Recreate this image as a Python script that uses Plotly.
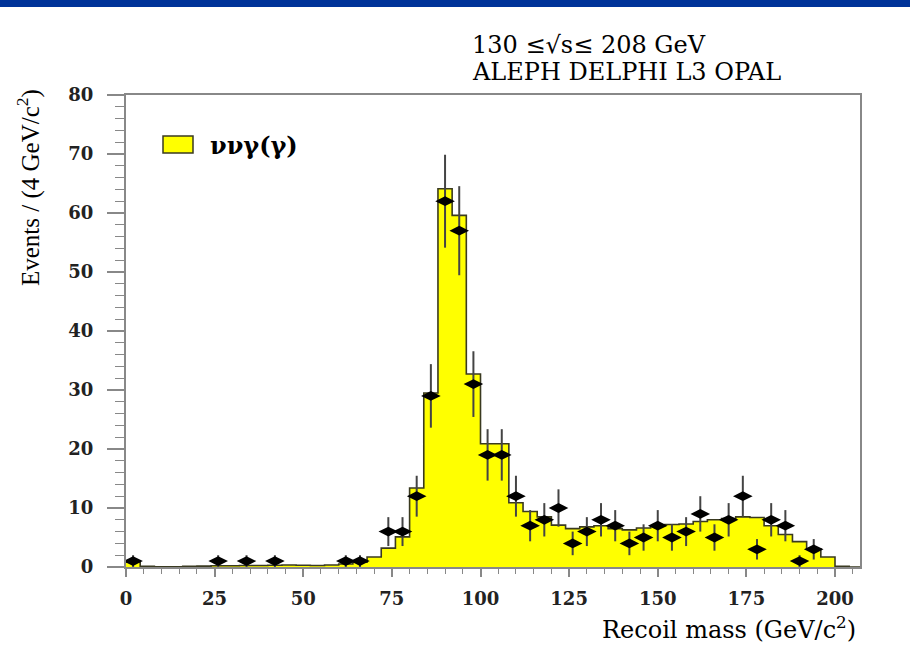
import numpy as np
import plotly.graph_objects as go

# ---- data ----
bin_edges = list(range(0, 212, 4))  # 0..208
mc_values = [0.8, 0.1, 0.05, 0.05, 0.1, 0.15, 0.2, 0.2, 0.25, 0.25,
             0.3, 0.35, 0.3, 0.25, 0.35, 0.5, 0.8, 1.7, 3.2, 5.1,
             13.4, 29.5, 64.1, 59.6, 32.7, 20.9, 20.9, 10.9, 9.4, 8.5,
             7.1, 6.5, 6.8, 7.0, 6.5, 6.3, 6.6, 7.0, 7.2, 7.3,
             7.7, 8.0, 8.2, 8.5, 8.4, 7.0, 5.5, 4.3, 3.1, 1.7,
             0.1, 0.0]
data_x = [2, 26, 34, 42, 62, 66, 74, 78, 82, 86, 90, 94, 98, 102, 106, 110,
          114, 118, 122, 126, 130, 134, 138, 142, 146, 150, 154, 158, 162,
          166, 170, 174, 178, 182, 186, 190, 194]
data_counts = [1, 1, 1, 1, 1, 1, 6, 6, 12, 29, 62, 57, 31, 19, 19, 12,
               7, 8, 10, 4, 6, 8, 7, 4, 5, 7, 5, 6, 9,
               5, 8, 12, 3, 8, 7, 1, 3]
x_ticks = [0, 25, 50, 75, 100, 125, 150, 175, 200]
y_ticks = [0, 10, 20, 30, 40, 50, 60, 70, 80]

SERIF = "Liberation Serif, Times New Roman, serif"
WIDE = "DejaVu Serif, serif"

fig = go.Figure()

# MC histogram (step)
fig.add_trace(go.Scatter(
    x=bin_edges, y=mc_values + [mc_values[-1]],
    mode="lines", line=dict(shape="hv", color="#3a3a20", width=1.6),
    fill="tozeroy", fillcolor="#ffff00", showlegend=False, hoverinfo="skip"))

# Data points
errs = list(np.sqrt(np.array(data_counts, dtype=float)))
fig.add_trace(go.Scatter(
    x=data_x, y=data_counts, mode="markers",
    marker=dict(symbol="diamond-wide", size=14, color="black"),
    error_y=dict(type="data", array=errs, visible=True, color="#444444",
                 thickness=2, width=0),
    showlegend=False))

W, H = 910, 657
L, R, T, B = 126, 50, 95, 90
pw, ph = W - L - R, H - T - B

def px(xp):
    return (xp - L) / pw

def py(yp):
    return (H - B - yp) / ph

fig.update_layout(
    width=W, height=H,
    margin=dict(l=L, r=R, t=T, b=B),
    paper_bgcolor="white", plot_bgcolor="white",
    font=dict(family=SERIF, color="black"),
    xaxis=dict(range=[0, pw / 3.545], tickvals=x_ticks,
               ticks="outside", ticklen=8, tickwidth=1.5, tickcolor="#888",
               minor=dict(dtick=5, ticks="outside", ticklen=5, tickcolor="#888", tickwidth=1.2),
               showline=True, linecolor="#888", linewidth=2, mirror=True,
               showgrid=False, zeroline=False,
               tickfont=dict(family=WIDE, size=18, color="#222", weight="bold"),
               ticklabelstandoff=6),
    yaxis=dict(range=[0, 80], tickvals=y_ticks,
               ticks="outside", ticklen=17, tickwidth=1.5, tickcolor="#888",
               minor=dict(dtick=2, ticks="outside", ticklen=9, tickcolor="#888", tickwidth=1.2),
               showline=True, linecolor="#888", linewidth=2, mirror=True,
               showgrid=False, zeroline=False,
               tickfont=dict(family=WIDE, size=18, color="#222", weight="bold"),
               ticklabelstandoff=10),
)

shapes = [
    # top blue band
    dict(type="rect", xref="paper", yref="paper",
         x0=px(-5), x1=px(W + 5), y0=py(7), y1=py(-3),
         fillcolor="#003399", line=dict(width=0), layer="above"),
    # legend box
    dict(type="rect", xref="paper", yref="paper",
         x0=px(163), x1=px(193), y0=py(153), y1=py(136),
         fillcolor="#ffff00", line=dict(color="#3a3a20", width=1.5)),
]
fig.update_layout(shapes=shapes)

ann = [
    dict(text="ννγ(γ)", x=px(208), y=py(145), xref="paper", yref="paper",
         xanchor="left", yanchor="middle", showarrow=False,
         font=dict(family=WIDE, size=24, color="black", weight="bold")),
    dict(text="130 ≤√s≤ 208 GeV", x=px(470), y=py(45), xref="paper", yref="paper",
         xanchor="left", yanchor="middle", showarrow=False,
         font=dict(family=WIDE, size=24, color="black")),
    dict(text="ALEPH DELPHI L3 OPAL", x=px(470), y=py(72), xref="paper", yref="paper",
         xanchor="left", yanchor="middle", showarrow=False,
         font=dict(family=WIDE, size=24, color="black")),
    dict(text="Events / (4 GeV/c<sup>2</sup>)", x=px(28), y=py(188), xref="paper", yref="paper",
         xanchor="center", yanchor="middle", textangle=-90, showarrow=False,
         font=dict(family=SERIF, size=25, color="black")),
    dict(text="Recoil mass (GeV/c<sup>2</sup>)", x=px(858), y=py(628), xref="paper", yref="paper",
         xanchor="right", yanchor="middle", showarrow=False,
         font=dict(family=WIDE, size=24, color="black")),
]
fig.update_layout(annotations=ann)

fig.write_html("out.html",
               config={"displayModeBar": False},
               post_script="document.body.style.margin='0';document.body.style.padding='0';")
